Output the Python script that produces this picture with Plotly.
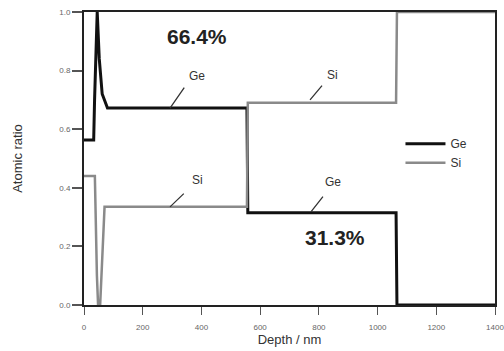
import plotly.graph_objects as go

# Depth profile data (nm, atomic ratio)
ge_depth = [0, 33, 36, 45, 52, 62, 80, 555, 558, 1063, 1066, 1400]
ge_ratio = [0.563, 0.563, 0.7, 1.0, 0.84, 0.72, 0.672, 0.672, 0.315, 0.315, 0.0, 0.0]
si_depth = [0, 37, 44, 48, 55, 70, 555, 558, 1063, 1066, 1400]
si_ratio = [0.44, 0.44, 0.1, 0.0, 0.0, 0.335, 0.335, 0.69, 0.69, 1.0, 1.0]

x_ticks = [0, 200, 400, 600, 800, 1000, 1200, 1400]
y_ticks = [0.0, 0.2, 0.4, 0.6, 0.8, 1.0]

FONT = "Liberation Sans, Arial, sans-serif"

fig = go.Figure()
fig.add_trace(go.Scatter(x=ge_depth, y=ge_ratio, mode="lines", name="Ge",
                         line=dict(color="#111111", width=3)))
fig.add_trace(go.Scatter(x=si_depth, y=si_ratio, mode="lines", name="Si",
                         line=dict(color="#8a8a8a", width=2.5)))

ann_font = dict(family=FONT, size=12, color="#333333")
annotations = [
    dict(x=385, y=0.915, text="<b>66.4%</b>", showarrow=False,
         font=dict(family=FONT, size=21, color="#222222")),
    dict(x=855, y=0.232, text="<b>31.3%</b>", showarrow=False,
         font=dict(family=FONT, size=21, color="#222222")),
]
# labels with leader lines: (text, target x, target y, leader start x, start y, text x, text y)
leaders = [
    ("Ge", 293, 0.672, 345, 0.747, 385, 0.78),
    ("Si", 770, 0.70, 815, 0.754, 845, 0.785),
    ("Si", 293, 0.335, 345, 0.385, 385, 0.427),
    ("Ge", 773, 0.318, 818, 0.375, 848, 0.42),
]
for txt, ax_, ay_, sx, sy, tx, ty in leaders:
    annotations.append(dict(x=ax_, y=ay_, ax=sx, ay=sy, axref="x", ayref="y",
                            text="", showarrow=True, arrowhead=0, arrowwidth=1.3,
                            arrowcolor="#333333"))
    annotations.append(dict(x=tx, y=ty, text=txt, showarrow=False, font=ann_font))

fig.update_layout(
    width=504, height=351,
    margin=dict(l=84, r=9, t=12, b=46),
    paper_bgcolor="white", plot_bgcolor="white",
    font=dict(family=FONT),
    showlegend=True,
    legend=dict(x=0.77, y=0.6, xanchor="left", yanchor="top",
                bgcolor="rgba(0,0,0,0)", font=dict(family=FONT, size=12, color="#333333"),
                itemwidth=40, tracegroupgap=0),
    annotations=annotations,
)
fig.update_xaxes(
    range=[0, 1400], tickvals=x_ticks, ticktext=[str(v) for v in x_ticks],
    showgrid=False, zeroline=False, automargin=False,
    showline=True, linecolor="#222222", linewidth=2, mirror=True,
    ticks="outside", ticklen=8, tickwidth=1, tickcolor="#555555",
    ticklabelstandoff=5, ticklabeloverflow="allow",
    tickfont=dict(family=FONT, size=8, color="#666666"),
    title=dict(text="Depth / nm", font=dict(family=FONT, size=13, color="#333333"), standoff=4),
)
fig.update_yaxes(
    range=[0, 1.0], tickvals=y_ticks, ticktext=[f"{v:.1f}" for v in y_ticks],
    showgrid=False, zeroline=False, automargin=False,
    showline=True, linecolor="#222222", linewidth=2, mirror=True,
    ticks="outside", ticklen=10, tickwidth=1.5, tickcolor="#555555",
    tickfont=dict(family=FONT, size=8, color="#666666"),
    title=dict(text="Atomic ratio", font=dict(family=FONT, size=13, color="#333333"), standoff=34),
)

fig.write_html("out.html")
